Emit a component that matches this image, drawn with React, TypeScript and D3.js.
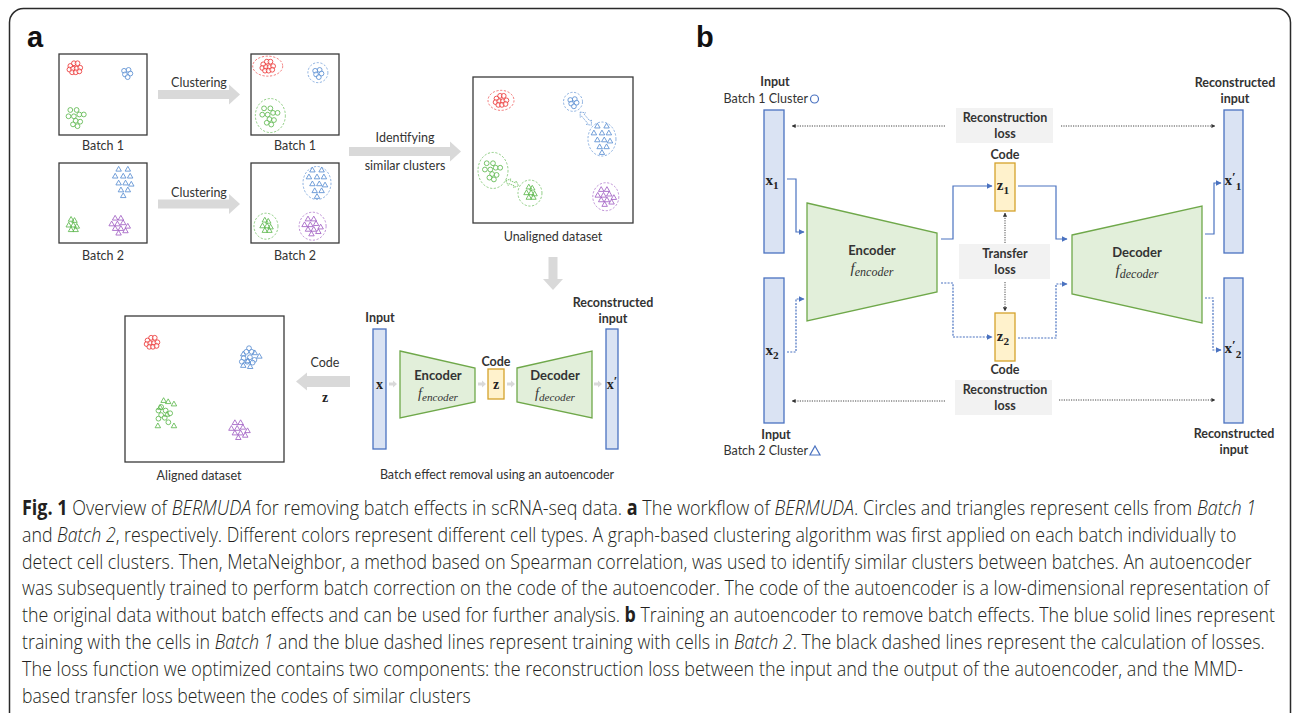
import React, { useLayoutEffect, useRef, useState } from "react";
import * as d3 from "d3";

const W = 1293;
const H = 713;

// cell colours (cell types)
const CELL_COLORS: Record<string, string> = {
  red: "#ec3a3a",
  blue: "#5b8fd2",
  green: "#5fb84f",
  purple: "#a261c4",
};

// marker patterns (offsets of cells around a cluster centre)
const patRed = [[-5, -2], [-1, -5], [3, -5], [-6, 2], [-2, 1], [2, 1], [6, 0], [-3, 5], [1, 5], [5, 4]];
const patBlueSmall = [[-3, -2], [2, -3], [4, 1], [-2, 2], [1, 5]];
const patGreenLoose = [[-7, -8], [0, -8], [-9, -1], [-3, -1], [3, -3], [8, -3], [-1, 4], [4, 5], [-4, 8], [1, 10]];
const patTriBig = [[-4, -11], [4, -11], [-7, -5], [0, -5], [6, -5], [-4, 1], [2, 1], [7, 2], [-2, 7], [4, 7], [0, 12]];
const patTriSmall = [[-1, -5], [2, -4], [-3, 0], [1, 0], [4, 1], [-1, 4], [3, 4]];
const patTriPurple = [[-4, -6], [1, -6], [-7, -1], [-2, -1], [3, -2], [7, 1], [-4, 3], [1, 3], [5, 5], [-1, 7]];
const patBlueMixCirc = [[0, -8], [-3, -4], [3, -4], [-6, 3], [1, 2], [6, 5], [-2, 7], [4, 8], [-8, 7]];
const patBlueMixTri = [[-5, -1], [5, -2], [9, 1], [-1, 5], [-5, 9], [1, 10]];
const patGreenMixCirc = [[-4, -6], [-7, -2], [1, -2], [-4, 3], [6, 1], [-7, 7], [0, 6], [4, 11]];
const patGreenMixTri = [[-1, -10], [3, -9], [8, -7], [-4, -4], [-6, 12], [8, 12], [2, 2]];

// clusters per scatter box: [colour, shape, pattern, cx, cy (0-100 of box), ring rx, ring ry]
type Cl = [string, string, number[][], number, number, number, number];
const batch1Raw: Cl[] = [
  ["red", "circle", patRed, 18, 17, 0, 0],
  ["blue", "circle", patBlueSmall, 77, 23, 0, 0],
  ["green", "circle", patGreenLoose, 20, 78, 0, 0],
];
const batch1Clustered: Cl[] = [
  ["red", "circle", patRed, 19, 15, 15, 10],
  ["blue", "circle", patBlueSmall, 76, 23, 10, 10],
  ["green", "circle", patGreenLoose, 22, 76, 15, 17],
];
const batch2Raw: Cl[] = [
  ["blue", "triangle", patTriBig, 73, 24, 0, 0],
  ["green", "triangle", patTriSmall, 15, 78, 0, 0],
  ["purple", "triangle", patTriPurple, 69, 78, 0, 0],
];
const batch2Clustered: Cl[] = [
  ["blue", "triangle", patTriBig, 75, 25, 14, 16.5],
  ["green", "triangle", patTriSmall, 17, 79, 12, 13],
  ["purple", "triangle", patTriPurple, 70, 79, 13.5, 14],
];
const unaligned: Cl[] = [
  ["red", "circle", patRed, 17.5, 16, 13, 10],
  ["blue", "circle", patBlueSmall, 62.5, 17, 9.5, 9.5],
  ["blue", "triangle", patTriBig, 80.6, 42.5, 14, 17],
  ["green", "circle", patGreenLoose, 12.5, 64, 15, 18],
  ["green", "triangle", patTriSmall, 35.6, 79.5, 12, 13],
  ["purple", "triangle", patTriPurple, 83, 82, 13, 14],
];
const aligned: Cl[] = [
  ["red", "circle", patRed, 17, 18, 0, 0],
  ["blue", "circle", patBlueMixCirc, 78, 27, 0, 0],
  ["blue", "triangle", patBlueMixTri, 78, 27, 0, 0],
  ["green", "circle", patGreenMixCirc, 25, 66, 0, 0],
  ["green", "triangle", patGreenMixTri, 25, 66, 0, 0],
  ["purple", "triangle", patTriPurple, 72, 78, 0, 0],
];

// similar-cluster links in the unaligned box: [colour, from(cx,cy), to(cx,cy)] in box units
const links: [string, number, number, number, number][] = [
  ["blue", 67, 24, 74, 33],
  ["green", 20.5, 71, 28.5, 74.5],
];

// caption lines: segments [text, style]
type Seg = [string, string];
const captionLines: Seg[][] = [
  [["Fig. 1", "b"], [" Overview of ", "n"], ["BERMUDA", "i"], [" for removing batch effects in scRNA-seq data. ", "n"], ["a", "b"], [" The workflow of ", "n"], ["BERMUDA", "i"], [". Circles and triangles represent cells from ", "n"], ["Batch 1", "i"]],
  [["and ", "n"], ["Batch 2", "i"], [", respectively. Different colors represent different cell types. A graph-based clustering algorithm was first applied on each batch individually to", "n"]],
  [["detect cell clusters. Then, MetaNeighbor, a method based on Spearman correlation, was used to identify similar clusters between batches. An autoencoder", "n"]],
  [["was subsequently trained to perform batch correction on the code of the autoencoder. The code of the autoencoder is a low-dimensional representation of", "n"]],
  [["the original data without batch effects and can be used for further analysis. ", "n"], ["b", "b"], [" Training an autoencoder to remove batch effects. The blue solid lines represent", "n"]],
  [["training with the cells in ", "n"], ["Batch 1", "i"], [" and the blue dashed lines represent training with cells in ", "n"], ["Batch 2", "i"], [". The black dashed lines represent the calculation of losses.", "n"]],
  [["The loss function we optimized contains two components: the reconstruction loss between the input and the output of the autoencoder, and the MMD-", "n"]],
  [["based transfer loss between the codes of similar clusters", "n"]],
];
const captionEnds = [1256, 1237, 1252, 1269, 1275, 1265, 1243, 471];

const SANS = "Lato, 'Open Sans', sans-serif";
const SERIF = "'Liberation Serif', 'DejaVu Serif', serif";
const TXT = "#333";
const BAR_FILL = "#dae3f3";
const BAR_STROKE = "#4a72c0";
const ENC_FILL = "#e2efda";
const ENC_STROKE = "#6fa84a";
const CODE_FILL = "#fff2cc";
const CODE_STROKE = "#d4a22c";
const LOSS_FILL = "#f2f2f2";
const ARROW_GRAY = "#d9d9d9";
const LINE_BLUE = "#4a72c0";

const tri = d3.symbol(d3.symbolTriangle, 13);

function ScatterBox({ x0, y0, w, h, clusters }: { x0: number; y0: number; w: number; h: number; clusters: Cl[] }) {
  const x = d3.scaleLinear().domain([0, 100]).range([x0, x0 + w]);
  const y = d3.scaleLinear().domain([0, 100]).range([y0, y0 + h]);
  return (
    <g>
      <rect x={x0} y={y0} width={w} height={h} fill="white" stroke="#3a3a3a" strokeWidth={1.3} />
      {clusters.map(([c, shape, pat, cx, cy, rx, ry], i) => {
        const col = CELL_COLORS[c];
        const k = shape === "circle" ? 0.9 : 1.15;
        return (
          <g key={i}>
            {rx > 0 && (
              <ellipse cx={x(cx)} cy={y(cy)} rx={rx} ry={ry} fill="none" stroke={col} strokeWidth={0.8} strokeDasharray="2.2,1.6" opacity={0.85} />
            )}
            {pat.map(([dx, dy], j) =>
              shape === "circle" ? (
                <circle key={j} cx={x(cx) + dx * k} cy={y(cy) + dy * k} r={2.4} fill="white" fillOpacity={0.6} stroke={col} strokeWidth={0.85} />
              ) : (
                <path key={j} d={tri() as string} transform={`translate(${x(cx) + dx * k},${y(cy) + dy * k})`} fill="none" stroke={col} strokeWidth={0.85} />
              )
            )}
          </g>
        );
      })}
    </g>
  );
}

// gray block arrow pointing right/left
function blockArrow(x1: number, x2: number, y: number, shaft: number, head: number, headLen: number) {
  const dir = Math.sign(x2 - x1);
  const hb = x2 - dir * headLen;
  const pts = [
    [x1, y - shaft / 2], [hb, y - shaft / 2], [hb, y - head / 2], [x2, y],
    [hb, y + head / 2], [hb, y + shaft / 2], [x1, y + shaft / 2],
  ];
  return pts.map((p) => p.join(",")).join(" ");
}
function downArrow(x: number, y1: number, y2: number, shaft: number, head: number, headLen: number) {
  const hb = y2 - headLen;
  const pts = [
    [x - shaft / 2, y1], [x - shaft / 2, hb], [x - head / 2, hb], [x, y2],
    [x + head / 2, hb], [x + shaft / 2, hb], [x + shaft / 2, y1],
  ];
  return pts.map((p) => p.join(",")).join(" ");
}

const line = d3.line();

function Lbl({ x, y, children, bold = false, size = 12.5, anchor = "middle" }: any) {
  return (
    <text x={x} y={y} textAnchor={anchor} fontFamily={SANS} fontSize={size} fontWeight={bold ? 700 : 400} fill={TXT}>
      {children}
    </text>
  );
}

function MathVar({ x, y, base, sub, prime = false, size = 15 }: any) {
  return (
    <text x={x} y={y} textAnchor="middle" fontFamily={SERIF} fontSize={size} fontWeight={700} fill="#222">
      {base}
      {prime && <tspan dy={-4} fontSize={size * 0.9} fontWeight={700}>{"\u2032"}</tspan>}
      {sub && (
        <tspan dy={prime ? 9 : 4} fontSize={size * 0.75}>
          {sub}
        </tspan>
      )}
    </text>
  );
}

function FSub({ x, y, sub, size = 15 }: any) {
  return (
    <text x={x} y={y} textAnchor="middle" fontFamily={SERIF} fontStyle="italic" fontSize={size} fill="#333">
      f<tspan dy={3} fontSize={size * 0.8}>{sub}</tspan>
    </text>
  );
}

function Trap({ pts, label, sub, lx, ly, size = 15 }: any) {
  return (
    <g>
      <polygon points={pts.map((p: number[]) => p.join(",")).join(" ")} fill={ENC_FILL} stroke={ENC_STROKE} strokeWidth={1.3} />
      <Lbl x={lx} y={ly} bold size={13}>{label}</Lbl>
      <FSub x={lx} y={ly + 18} sub={sub} size={size} />
    </g>
  );
}

function smallArrow(x: number, y: number) {
  return <polygon key={`${x}-${y}`} points={`${x - 4},${y - 1.5} ${x},${y - 1.5} ${x},${y - 3.5} ${x + 4},${y} ${x},${y + 3.5} ${x},${y + 1.5} ${x - 4},${y + 1.5}`} fill={ARROW_GRAY} />;
}

function dblArrow(x1: number, y1: number, x2: number, y2: number, col: string, key: number) {
  const a = Math.atan2(y2 - y1, x2 - x1);
  const L = Math.hypot(x2 - x1, y2 - y1);
  const hl = 4, sw = 1.6, hw = 3.5;
  const pts = [
    [0, 0], [hl, -hw], [hl, -sw], [L - hl, -sw], [L - hl, -hw], [L, 0],
    [L - hl, hw], [L - hl, sw], [hl, sw], [hl, hw],
  ];
  return (
    <polygon key={key} points={pts.map((p) => p.join(",")).join(" ")}
      transform={`translate(${x1},${y1}) rotate(${(a * 180) / Math.PI})`}
      fill="white" stroke={col} strokeWidth={0.7} strokeDasharray="1.5,0.8" />
  );
}

// one caption line, squeezed horizontally so that it ends where the reference line ends
function CaptionLine({ segs, y, x0, x1 }: { segs: Seg[]; y: number; x0: number; x1: number }) {
  const ref = useRef<SVGTextElement>(null);
  const [sx, setSx] = useState(0.86);
  useLayoutEffect(() => {
    if (ref.current) {
      const natural = ref.current.getComputedTextLength();
      if (natural > 0) setSx((x1 - x0) / natural);
    }
  }, [x0, x1]);
  return (
    <g transform={`translate(${x0},${y}) scale(${sx},1)`}>
      <text ref={ref} x={0} y={0} fontFamily="'Open Sans', sans-serif" fontWeight={300} fontSize={21} fill="#231f20">
        {segs.map(([t, s], j) => (
          <tspan key={j} fontWeight={s === "b" ? 700 : 300} fontStyle={s === "i" ? "italic" : "normal"}>{t}</tspan>
        ))}
      </text>
    </g>
  );
}

export default function App() {
  const ux = d3.scaleLinear().domain([0, 100]).range([473, 633]);
  const uy = d3.scaleLinear().domain([0, 100]).range([77, 223]);

  // panel b connectors
  const solid = [
    [[787, 179], [796, 179], [796, 232], [804, 232]],
    [[941, 239], [953, 239], [953, 186], [992, 186]],
    [[1018, 186], [1056, 186], [1056, 239], [1067, 239]],
    [[1205, 234], [1214, 234], [1214, 183], [1221, 183]],
  ];
  const dashed = [
    [[787, 352], [796, 352], [796, 299], [804, 299]],
    [[941, 283], [953, 283], [953, 337], [992, 337]],
    [[1018, 338], [1056, 338], [1056, 284], [1067, 284]],
    [[1205, 298], [1213, 298], [1213, 350], [1221, 350]],
  ];
  const dotted = [
    [[945, 126], [792, 126]],
    [[1061, 126], [1215, 126]],
    [[945, 401], [792, 401]],
    [[1059, 400], [1215, 400]],
    [[1005, 243], [1005, 213]],
    [[1005, 282], [1005, 311]],
  ];

  return (
    <svg width={W} height={H} style={{ position: "absolute", left: 0, top: 0, background: "white" }}>
      <defs>
        <marker id="ab" viewBox="0 0 10 10" refX="9" refY="5" markerWidth="5" markerHeight="5" orient="auto">
          <path d="M0,0 L10,5 L0,10 z" fill={LINE_BLUE} />
        </marker>
        <marker id="ak" viewBox="0 0 10 10" refX="9" refY="5" markerWidth="4.5" markerHeight="4.5" orient="auto">
          <path d="M0,0 L10,5 L0,10 z" fill="#333" />
        </marker>
      </defs>
      <rect x={9.5} y={8.5} width={1281} height={760} rx={14} fill="white" stroke="#2a2a2a" strokeWidth={1.5} />

      {/* panel labels */}
      <text x={27} y={47} fontFamily="'Liberation Sans', Arial, sans-serif" fontWeight={700} fontSize={29} fill="#111">a</text>
      <text x={696} y={47} fontFamily="'Liberation Sans', Arial, sans-serif" fontWeight={700} fontSize={29} fill="#111">b</text>

      {/* ---- panel a ---- */}
      <ScatterBox x0={59} y0={54} w={88} h={81} clusters={batch1Raw} />
      <ScatterBox x0={251} y0={54} w={88} h={81} clusters={batch1Clustered} />
      <ScatterBox x0={59} y0={163} w={88} h={80} clusters={batch2Raw} />
      <ScatterBox x0={251} y0={163} w={88} h={80} clusters={batch2Clustered} />
      <Lbl x={103} y={150}>Batch 1</Lbl>
      <Lbl x={295} y={150}>Batch 1</Lbl>
      <Lbl x={103} y={260}>Batch 2</Lbl>
      <Lbl x={295} y={260}>Batch 2</Lbl>

      <polygon points={blockArrow(158, 240, 94.5, 9, 20, 11)} fill={ARROW_GRAY} />
      <polygon points={blockArrow(158, 240, 204, 9, 20, 11)} fill={ARROW_GRAY} />
      <Lbl x={199} y={87}>Clustering</Lbl>
      <Lbl x={199} y={197}>Clustering</Lbl>

      <polygon points={blockArrow(349, 461, 151.5, 9, 20, 11)} fill={ARROW_GRAY} />
      <Lbl x={405} y={141.5}>Identifying</Lbl>
      <Lbl x={405} y={170}>similar clusters</Lbl>

      <ScatterBox x0={473} y0={77} w={160} h={146} clusters={unaligned} />
      {links.map(([c, a1, b1, a2, b2], i) => dblArrow(ux(a1), uy(b1), ux(a2), uy(b2), CELL_COLORS[c], i))}
      <Lbl x={553} y={241}>Unaligned dataset</Lbl>

      <polygon points={downArrow(553, 257, 290, 9, 20, 11)} fill={ARROW_GRAY} />

      <ScatterBox x0={125} y0={316} w={159} h={146} clusters={aligned} />
      <Lbl x={199} y={480}>Aligned dataset</Lbl>

      <polygon points={blockArrow(350, 296, 381.5, 11, 18, 11)} fill={ARROW_GRAY} />
      <Lbl x={325} y={367}>Code</Lbl>
      <MathVar x={325} y={402} base="z" size={14} />

      {/* autoencoder */}
      <Lbl x={380} y={322} bold>Input</Lbl>
      <rect x={373} y={329} width={13} height={120} fill={BAR_FILL} stroke={BAR_STROKE} strokeWidth={1.3} />
      <MathVar x={379.5} y={389} base="x" size={14} />
      {smallArrow(393, 384)}
      <Trap pts={[[400, 351], [475, 368], [475, 402], [400, 418]]} label="Encoder" sub="encoder" lx={438} ly={380} size={14} />
      {smallArrow(482, 384)}
      <Lbl x={496} y={366} bold>Code</Lbl>
      <rect x={488} y={369} width={16} height={30} fill={CODE_FILL} stroke={CODE_STROKE} strokeWidth={1.3} />
      <MathVar x={496} y={389} base="z" size={14} />
      {smallArrow(511, 384)}
      <Trap pts={[[517, 368], [592, 351], [592, 418], [517, 402]]} label="Decoder" sub="decoder" lx={555} ly={380} size={14} />
      {smallArrow(598, 384)}
      <rect x={606} y={329} width={12} height={120} fill={BAR_FILL} stroke={BAR_STROKE} strokeWidth={1.3} />
      <MathVar x={612} y={389} base="x" prime size={14} />
      <Lbl x={613} y={307} bold>Reconstructed</Lbl>
      <Lbl x={613} y={323} bold>input</Lbl>
      <Lbl x={497} y={479}>Batch effect removal using an autoencoder</Lbl>

      {/* ---- panel b ---- */}
      <Lbl x={775} y={86} bold>Input</Lbl>
      <Lbl x={808} y={103} anchor="end">Batch 1 Cluster</Lbl>
      <circle cx={814.5} cy={99} r={4} fill="none" stroke={LINE_BLUE} strokeWidth={1.2} />
      <rect x={764} y={110} width={20} height={143} fill={BAR_FILL} stroke={BAR_STROKE} strokeWidth={1.3} />
      <rect x={764} y={278} width={20} height={145} fill={BAR_FILL} stroke={BAR_STROKE} strokeWidth={1.3} />
      <MathVar x={772} y={185} base="x" sub="1" />
      <MathVar x={772} y={355} base="x" sub="2" />
      <Lbl x={776} y={439} bold>Input</Lbl>
      <Lbl x={808} y={455} anchor="end">Batch 2 Cluster</Lbl>
      <path d="M815,446 L820,455 L810,455 Z" fill="none" stroke={LINE_BLUE} strokeWidth={1.2} />

      <Trap pts={[[807, 203], [937, 233], [937, 292], [807, 321]]} label="Encoder" sub="encoder" lx={872} ly={255} />
      <Trap pts={[[1072, 235], [1202, 206], [1202, 323], [1072, 294]]} label="Decoder" sub="decoder" lx={1137} ly={257} />

      <rect x={956} y={108} width={97} height={35} fill={LOSS_FILL} />
      <Lbl x={1005} y={122} bold>Reconstruction</Lbl>
      <Lbl x={1005} y={138} bold>loss</Lbl>
      <rect x={959} y={244} width={91} height={35} fill={LOSS_FILL} />
      <Lbl x={1005} y={258} bold>Transfer</Lbl>
      <Lbl x={1005} y={274} bold>loss</Lbl>
      <rect x={955} y={380} width={97} height={35} fill={LOSS_FILL} />
      <Lbl x={1005} y={394} bold>Reconstruction</Lbl>
      <Lbl x={1005} y={410} bold>loss</Lbl>

      <Lbl x={1005} y={159} bold>Code</Lbl>
      <rect x={995} y={163} width={20} height={48} fill={CODE_FILL} stroke={CODE_STROKE} strokeWidth={1.3} />
      <MathVar x={1003} y={190} base="z" sub="1" />
      <rect x={995} y={313} width={20} height={48} fill={CODE_FILL} stroke={CODE_STROKE} strokeWidth={1.3} />
      <MathVar x={1003} y={341} base="z" sub="2" />
      <Lbl x={1005} y={374} bold>Code</Lbl>

      <rect x={1224} y={110} width={19} height={143} fill={BAR_FILL} stroke={BAR_STROKE} strokeWidth={1.3} />
      <rect x={1224} y={278} width={19} height={145} fill={BAR_FILL} stroke={BAR_STROKE} strokeWidth={1.3} />
      <MathVar x={1233} y={185} base="x" sub="1" prime />
      <MathVar x={1233} y={353} base="x" sub="2" prime />
      <Lbl x={1235} y={87} bold>Reconstructed</Lbl>
      <Lbl x={1235} y={103} bold>input</Lbl>
      <Lbl x={1234} y={438} bold>Reconstructed</Lbl>
      <Lbl x={1234} y={454} bold>input</Lbl>

      {solid.map((p, i) => (
        <path key={`s${i}`} d={line(p as [number, number][]) as string} fill="none" stroke={LINE_BLUE} strokeWidth={1.2} markerEnd="url(#ab)" />
      ))}
      {dashed.map((p, i) => (
        <path key={`d${i}`} d={line(p as [number, number][]) as string} fill="none" stroke={LINE_BLUE} strokeWidth={1.2} strokeDasharray="2,1.3" markerEnd="url(#ab)" />
      ))}
      {dotted.map((p, i) => (
        <path key={`k${i}`} d={line(p as [number, number][]) as string} fill="none" stroke="#333" strokeWidth={0.9} strokeDasharray="1.2,1.2" markerEnd="url(#ak)" />
      ))}

      {/* caption */}
      {captionLines.map((segs, i) => (
        <CaptionLine key={i} segs={segs} y={515 + i * 26.8} x0={22} x1={captionEnds[i]} />
      ))}
    </svg>
  );
}
